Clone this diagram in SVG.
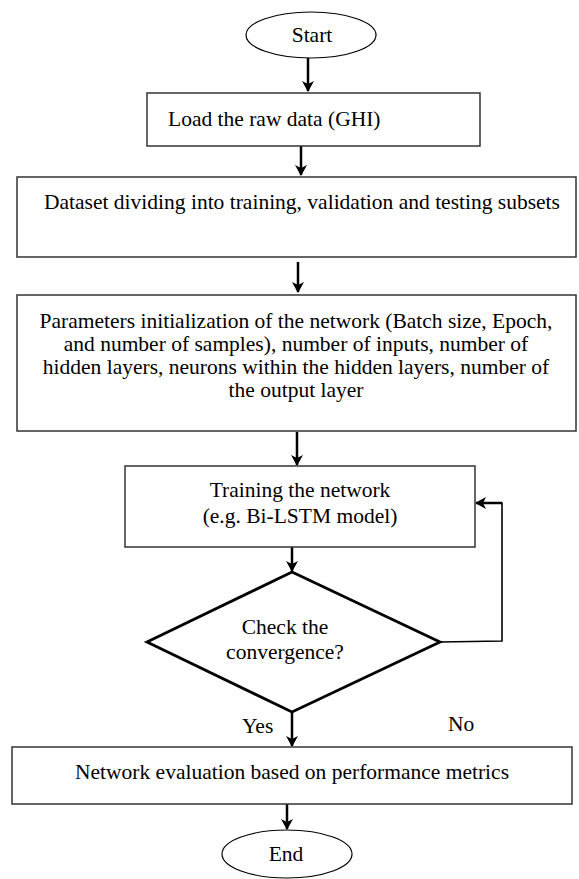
<svg xmlns="http://www.w3.org/2000/svg" width="579" height="879" viewBox="0 0 579 879">
<style>
.box{fill:#fff;stroke:#333;stroke-width:1.5}
.term{fill:#fff;stroke:#000;stroke-width:1.2}
.dia{fill:#fff;stroke:#000;stroke-width:2.8}
.t{font-family:"Liberation Serif","Times New Roman",serif;font-size:21.5px;fill:#000}
.c{text-anchor:middle}
.ln{fill:none;stroke:#000;stroke-width:2.5}
.fb{fill:none;stroke:#000;stroke-width:1.6}
</style>
<defs>
<marker id="ah" markerWidth="12" markerHeight="12" refX="10" refY="6" orient="auto" markerUnits="userSpaceOnUse">
<path d="M0,0 L11,6 L0,12 L3,6 z" fill="#000"/>
</marker>
</defs>
<rect width="579" height="879" fill="#fff"/>
<g id="connectors">
<line class="ln" x1="308" y1="58" x2="308" y2="91" marker-end="url(#ah)"/>
<line class="ln" x1="301" y1="146" x2="301" y2="175" marker-end="url(#ah)"/>
<line class="ln" x1="298" y1="262" x2="298" y2="292" marker-end="url(#ah)"/>
<line class="ln" x1="297" y1="432" x2="297" y2="465" marker-end="url(#ah)"/>
<line class="ln" x1="292" y1="547" x2="292" y2="571" marker-end="url(#ah)"/>
<polyline class="fb" points="440,642 502,641 502,503 490,503"/>
<line class="ln" x1="502" y1="503" x2="476" y2="503" marker-end="url(#ah)"/>
<line class="ln" x1="292" y1="712" x2="292" y2="746" marker-end="url(#ah)"/>
<line class="ln" x1="287" y1="804" x2="287" y2="829" marker-end="url(#ah)"/>
</g>
<g id="start">
<ellipse class="term" cx="311" cy="35" rx="65" ry="23"/>
<text class="t c" x="312" y="42">Start</text>
</g>
<g id="load">
<rect class="box" x="147" y="93" width="333" height="53"/>
<text class="t" x="168" y="126">Load the raw data (GHI)</text>
</g>
<g id="dataset">
<rect class="box" x="17" y="177" width="559" height="80"/>
<text class="t c" x="302" y="209">Dataset dividing into training, validation and testing subsets</text>
</g>
<g id="params">
<rect class="box" x="17" y="295" width="559" height="136"/>
<text class="t c" x="296" y="328">Parameters initialization of the network (Batch size, Epoch,</text>
<text class="t c" x="296" y="351">and number of samples), number of inputs, number of</text>
<text class="t c" x="296" y="374">hidden layers, neurons within the hidden layers, number of</text>
<text class="t c" x="296" y="397">the output layer</text>
</g>
<g id="training">
<rect class="box" x="125" y="466" width="350" height="81"/>
<text class="t c" x="300" y="497">Training the network</text>
<text class="t c" x="300" y="523">(e.g. Bi-LSTM model)</text>
</g>
<g id="check">
<polygon class="dia" points="292,572 440,642 292,712 147,642"/>
<text class="t c" x="285" y="634">Check the</text>
<text class="t c" x="285" y="659">convergence?</text>
</g>
<g id="labels">
<text class="t" x="242" y="733">Yes</text>
<text class="t" x="448" y="731">No</text>
</g>
<g id="evaluation">
<rect class="box" x="12" y="747" width="560" height="57"/>
<text class="t c" x="292" y="779">Network evaluation based on performance metrics</text>
</g>
<g id="end">
<ellipse class="term" cx="287" cy="854" rx="65" ry="24"/>
<text class="t c" x="286" y="861">End</text>
</g>
</svg>
